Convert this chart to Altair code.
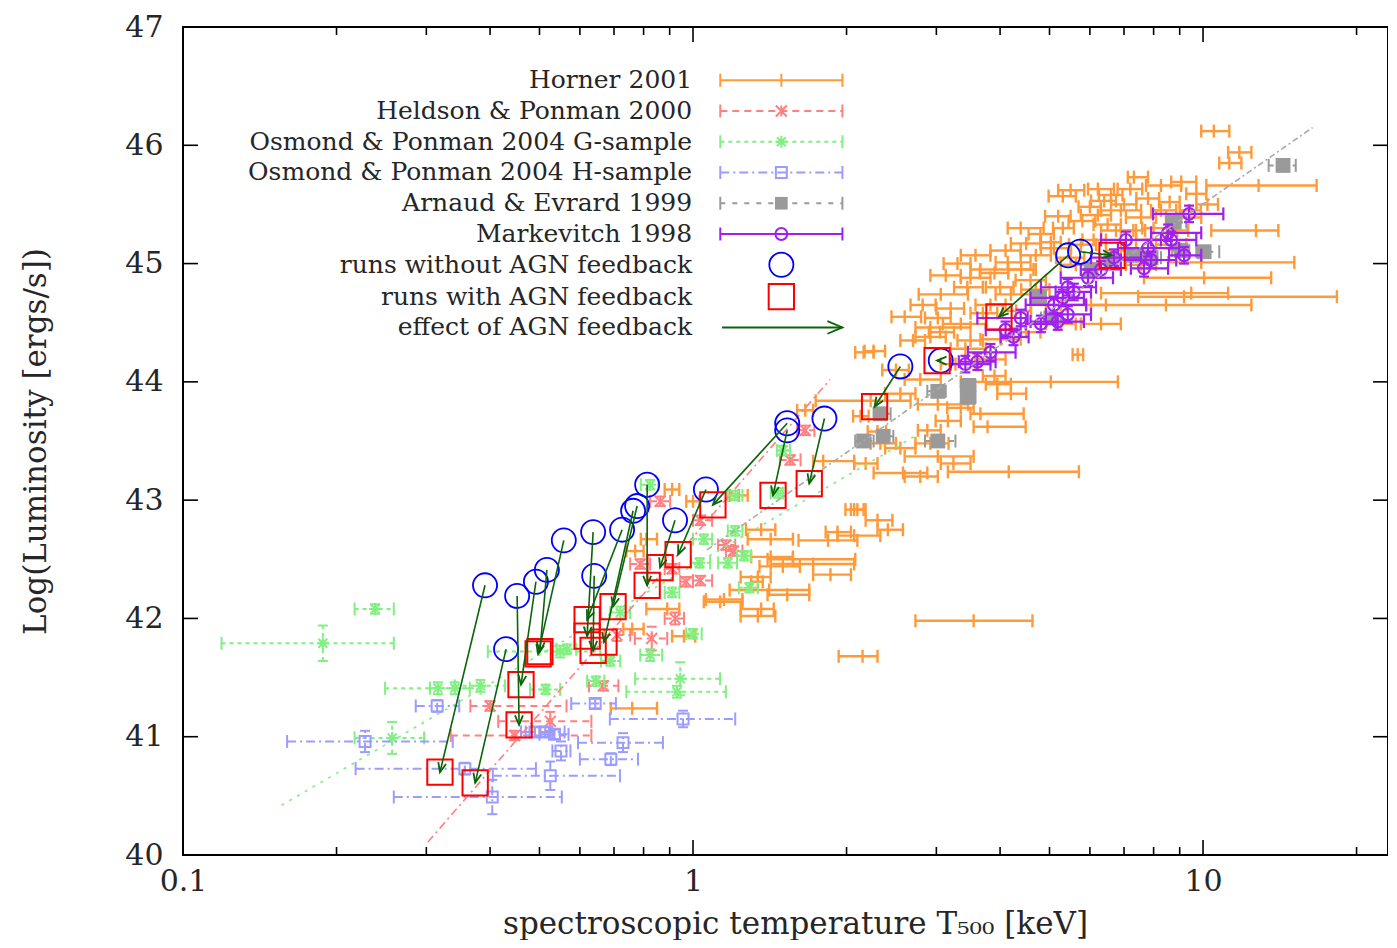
import math
import altair as alt
import pandas as pd

FONT = "DejaVu Serif"
TXT = "#262626"
W, H = 1205, 828
XMIN, XMAX = 0.1, 23.05
YMIN, YMAX = 40, 47

# ---------------- Horner 2001 (T, T_lo, T_hi in keV ; log L) ----------------
horner_T = [
    10.5, 11.78, 11.26, 5.31, 6.22, 6.4, 7.32, 8.27, 9.06, 9.7,
    12.85, 6.9, 7.56, 8.27, 9.06, 4.39, 5.31, 6.22, 6.75, 5.03,
    5.76, 12.7, 9.92, 10.05, 9.48, 9.18, 8.46, 6.31, 5.1, 4.14,
    3.66, 3.5, 3.06, 2.82, 3.02, 2.92, 2.92, 2.26, 5.03, 3.95,
    3.02, 3.66, 3.16, 3.78, 2.88, 3.02, 3.24, 4.16, 2.58, 2.79,
    2.13, 2.3, 2.16, 2.23, 1.8, 2.18, 2.1, 2.3, 2.41, 2.07,
    1.84, 1.42, 1.72, 1.42, 1.86, 1.34, 1.41, 1.15, 1.34, 3.55,
    2.15, 0.91, 1.0, 1.66, 1.23, 0.81, 0.77, 1.36, 1.5, 1.57,
    1.34, 1.13, 1.36, 1.53, 0.89, 0.76, 0.96, 1.92, 2.07, 0.76,
    5.68, 3.35, 3.83, 4.2, 4.59, 4.92, 4.01, 3.42, 3.27, 3.83,
    2.79, 2.55, 4.7, 5.63, 6.9, 7.56, 7.91, 8.66, 4.1, 3.58,
    3.13, 5.9, 5.26, 2.33, 2.55, 2.92,
    5.5, 6.0, 6.6, 7.0, 7.8, 8.6, 5.8, 6.5, 7.3, 8.0,
    5.2, 4.8, 5.5, 6.1, 4.5, 8.9, 9.4, 7.2, 10.2,
    3.3, 3.9, 4.4, 3.45, 4.0, 4.7, 3.2, 3.7, 4.3, 3.05,
    3.5, 4.5, 2.6, 2.7, 3.9, 4.2, 3.35, 2.5]
horner_Tlo = [
    9.92, 11.2, 10.76, 4.98, 5.95, 6.03, 7.12, 7.73, 8.66, 9.27,
    10.15, 6.31, 7.06, 7.91, 8.46, 4.14, 5.08, 5.76, 6.31, 4.81,
    5.46, 10.38, 8.54, 7.66, 6.31, 7.46, 6.03, 5.76, 4.81, 3.92,
    3.5, 3.35, 2.77, 2.67, 2.85, 2.73, 2.73, 2.17, 3.35, 3.75,
    2.76, 3.5, 2.99, 3.55, 2.76, 2.6, 3.06, 3.16, 2.26, 2.6,
    2.06, 2.2, 2.08, 1.74, 1.72, 2.07, 2.04, 2.18, 2.3, 1.92,
    1.61, 1.28, 1.42, 1.3, 1.72, 1.3, 1.18, 1.06, 1.24, 2.73,
    1.93, 0.88, 0.97, 1.6, 1.18, 0.79, 0.74, 1.27, 1.35, 1.4,
    1.24, 1.05, 1.24, 1.4, 0.81, 0.73, 0.91, 1.82, 1.99, 0.69,
    5.55, 3.09, 3.58, 3.92, 4.29, 4.59, 3.66, 3.2, 3.06, 3.58,
    2.6, 2.38, 4.39, 5.26, 6.45, 7.06, 7.39, 8.09, 3.83, 3.35,
    2.92, 5.39, 4.92, 2.23, 2.38, 2.73,
    5.2, 5.7, 6.25, 6.6, 7.4, 8.2, 5.45, 6.1, 6.9, 7.6,
    4.9, 4.55, 5.15, 5.8, 4.2, 8.5, 9.0, 6.8, 9.7,
    3.1, 3.65, 4.15, 3.25, 3.75, 4.4, 3.0, 3.5, 4.05, 2.9,
    3.3, 4.2, 2.45, 2.55, 3.7, 3.95, 3.15, 2.35]
horner_Thi = [
    11.26, 12.44, 11.89, 5.63, 6.69, 6.75, 7.8, 9.06, 9.7, 10.15,
    16.7, 7.56, 8.09, 8.86, 9.92, 4.87, 5.58, 6.6, 7.39, 5.26,
    6.17, 14.05, 15.1, 13.6, 11.2, 18.3, 12.44, 6.9, 5.51, 4.59,
    4.65, 3.83, 3.46, 2.99, 3.2, 3.5, 3.13, 2.38, 6.81, 4.2,
    3.46, 4.45, 3.35, 4.49, 3.06, 3.55, 3.5, 5.71, 2.88, 3.02,
    2.21, 2.39, 2.26, 2.67, 2.07, 2.3, 2.18, 2.46, 2.58, 2.33,
    2.1, 1.57, 2.07, 1.57, 2.04, 1.37, 1.69, 1.25, 1.45, 4.63,
    2.3, 0.94, 1.03, 1.72, 1.28, 0.85, 0.8, 1.45, 1.62, 2.08,
    1.42, 1.25, 1.44, 1.69, 0.94, 0.8, 1.01, 2.04, 2.16, 0.85,
    5.82, 3.75, 4.1, 4.59, 4.92, 5.26, 4.39, 3.75, 3.58, 4.1,
    3.06, 2.73, 5.03, 6.03, 7.39, 8.09, 8.46, 9.27, 4.39, 3.83,
    3.35, 6.45, 5.63, 2.5, 2.73, 3.17,
    5.85, 6.3, 6.95, 7.4, 8.2, 9.0, 6.15, 6.9, 7.7, 8.5,
    5.5, 5.1, 5.85, 6.45, 4.8, 9.35, 9.9, 7.6, 10.7,
    3.5, 4.15, 4.7, 3.7, 4.25, 5.0, 3.4, 3.95, 4.6, 3.25,
    3.7, 4.8, 2.8, 2.85, 4.1, 4.5, 3.55, 2.65]
horner_L = [
    46.12, 45.94, 45.85, 45.57, 45.63, 45.53, 45.73, 45.66, 45.69, 45.59,
    45.66, 45.45, 45.39, 45.45, 45.39, 45.30, 45.30, 45.41, 45.28, 45.18,
    45.16, 45.28, 45.01, 44.88, 44.75, 44.72, 44.65, 44.49, 45.13, 45.01,
    44.95, 44.88, 44.74, 44.65, 44.54, 44.46, 44.38, 44.26, 44.0, 43.98,
    43.81, 43.73, 43.67, 43.62, 43.59, 43.37, 43.31, 43.24, 43.23, 43.20,
    43.71, 43.58, 44.25, 43.84, 43.33, 43.31, 42.92, 42.83, 42.75, 42.70,
    42.66, 42.67, 42.46, 42.52, 42.37, 42.31, 42.24, 42.16, 42.02, 41.98,
    41.68, 43.09, 42.99, 43.76, 43.04, 42.67, 42.57, 42.75, 42.44, 42.50,
    42.35, 42.14, 42.08, 42.20, 42.08, 41.91, 41.85, 42.73, 42.92, 41.24,
    44.23, 44.49, 44.65, 44.74, 44.86, 44.65, 44.36, 44.28, 44.15, 44.19,
    44.02, 43.90, 45.07, 44.99, 45.11, 44.99, 45.20, 45.16, 45.11, 45.07,
    44.90, 44.65, 44.49, 43.48, 43.44, 43.48,
    45.62, 45.48, 45.58, 45.50, 45.55, 45.52, 45.36, 45.33, 45.28, 45.30,
    45.40, 45.25, 45.05, 45.20, 45.17, 45.28, 45.45, 45.63, 45.50,
    45.00, 44.92, 44.95, 44.80, 44.80, 44.78, 44.62, 44.58, 44.60, 44.42,
    44.35, 44.42, 44.55, 44.35, 44.05, 43.90, 43.78, 44.10]
horner_Lerr = 0.055

# ---------------- Heldson & Ponman 2000 ----------------
held_T = [0.667, 0.525, 0.40, 0.447, 0.83, 0.709, 0.922, 0.97, 0.91, 0.788, 1.034, 1.16, 1.2, 1.034, 0.862, 1.55, 1.66]
held_Tlo = [0.625, 0.415, 0.366, 0.335, 0.769, 0.67, 0.88, 0.944, 0.88, 0.753, 1.0, 1.12, 1.16, 1.0, 0.824, 1.48, 1.6]
held_Thi = [0.714, 0.632, 0.565, 0.632, 0.89, 0.753, 0.96, 1.0, 0.94, 0.824, 1.09, 1.21, 1.25, 1.09, 0.902, 1.625, 1.73]
held_L = [41.43, 41.13, 41.26, 41.01, 41.83, 41.86, 42.0, 42.31, 42.42, 42.46, 42.32, 42.62, 42.57, 42.83, 42.99, 43.34, 43.59]
held_Lerr = [0.04, 0.08, 0.04, 0.04, 0.1, 0.05, 0.05, 0.04, 0.04, 0.04, 0.04, 0.04, 0.04, 0.04, 0.04, 0.04, 0.04]

# ---------------- Osmond & Ponman 2004 G-sample ----------------
osg_T = [0.188, 0.238, 0.257, 0.316, 0.341, 0.383, 0.514, 0.549, 0.566, 0.72,
         0.824, 0.944, 0.93, 1.0, 0.91, 1.29, 1.03, 1.17, 1.05, 1.21,
         1.21, 0.824, 1.47, 1.5, 0.688, 0.645, 1.26]
osg_Tlo = [0.119, 0.217, 0.217, 0.249, 0.305, 0.341, 0.479, 0.396, 0.54, 0.688,
           0.788, 0.77, 0.74, 0.97, 0.88, 1.23, 0.99, 1.12, 1.0, 1.17,
           1.17, 0.79, 1.42, 1.46, 0.66, 0.62, 1.22]
osg_Thi = [0.259, 0.259, 0.297, 0.365, 0.383, 0.428, 0.549, 0.658, 0.59, 0.753,
           0.87, 1.13, 1.16, 1.04, 0.94, 1.34, 1.08, 1.22, 1.09, 1.25,
           1.25, 0.855, 1.5, 1.55, 0.72, 0.67, 1.3]
osg_L = [41.79, 42.08, 40.99, 41.41, 41.41, 41.43, 41.40, 41.72, 41.74, 42.05,
         41.69, 41.49, 41.38, 41.87, 42.22, 42.26, 42.47, 42.47, 42.67, 42.74,
         43.04, 43.13, 43.06, 43.42, 41.64, 41.47, 42.53]
osg_Lerr = [0.15, 0.04, 0.135, 0.05, 0.05, 0.05, 0.04, 0.05, 0.04, 0.05,
            0.05, 0.14, 0.05, 0.04, 0.04, 0.04, 0.04, 0.04, 0.04, 0.04,
            0.04, 0.04, 0.04, 0.04, 0.04, 0.04, 0.04]

# ---------------- Osmond & Ponman 2004 H-sample ----------------
osh_T = [0.2275, 0.315, 0.404, 0.357, 0.525, 0.513, 0.49, 0.535, 0.551, 0.643, 0.729, 0.690, 0.956]
osh_Tlo = [0.160, 0.286, 0.259, 0.218, 0.405, 0.47, 0.46, 0.5, 0.53, 0.577, 0.595, 0.6, 0.687]
osh_Thi = [0.338, 0.348, 0.553, 0.492, 0.719, 0.56, 0.53, 0.57, 0.575, 0.706, 0.873, 0.78, 1.21]
osh_L = [40.96, 41.26, 40.49, 40.73, 40.67, 41.04, 41.04, 41.02, 40.88, 41.28, 40.95, 40.81, 41.15]
osh_Lerr = [0.09, 0.05, 0.145, 0.05, 0.12, 0.04, 0.04, 0.04, 0.08, 0.04, 0.08, 0.05, 0.07]

# ---------------- Arnaud & Evrard 1999 ----------------
arn_T = [14.35, 10.05, 7.91, 7.32, 8.78, 4.76, 5.03, 3.47, 3.47, 3.02, 2.33, 2.16, 2.36, 3.02, 6.03, 6.6, 9.06]
arn_Tlo = [13.45, 9.7, 7.56, 7.06, 8.46, 4.59, 4.81, 3.35, 3.35, 2.88, 2.26, 2.08, 2.3, 2.85, 5.76, 6.3, 8.7]
arn_Thi = [15.2, 10.76, 8.27, 7.63, 9.27, 4.92, 5.26, 3.58, 3.58, 3.13, 2.44, 2.26, 2.47, 3.27, 6.31, 6.9, 9.4]
arn_L = [45.83, 45.10, 45.05, 45.07, 45.35, 44.72, 44.54, 43.97, 43.87, 43.92, 43.73, 43.50, 43.54, 43.50, 44.95, 45.03, 45.11]
arn_Lerr = 0.05

# ---------------- Markevitch 1998 ----------------
mar_T = [9.39, 8.54, 9.18, 7.8, 7.66, 6.69, 7.06, 5.95, 5.43, 5.31, 5.58, 5.1, 5.43, 5.19, 4.81, 4.39, 4.25, 3.83, 3.61, 3.42, 4.1, 6.31, 7.91, 8.66]
mar_Tlo = [7.98, 7.91, 8.58, 6.81, 7.22, 6.03, 6.31, 5.26, 4.81, 4.59, 5.14, 4.49, 4.92, 4.59, 4.49, 3.61, 4.01, 3.46, 3.32, 3.2, 3.75, 5.76, 6.9, 7.91]
mar_Thi = [10.96, 9.92, 9.92, 8.98, 8.54, 7.56, 8.27, 6.66, 6.17, 5.84, 6.03, 5.9, 6.03, 5.84, 5.14, 4.53, 4.55, 4.29, 3.92, 3.83, 4.39, 6.9, 8.86, 9.7]
mar_L = [45.42, 45.26, 45.07, 45.13, 44.96, 45.05, 45.20, 44.88, 44.80, 44.71, 44.76, 44.65, 44.57, 44.51, 44.49, 44.54, 44.38, 44.25, 44.17, 44.15, 44.44, 44.95, 45.03, 45.20]
mar_Lerr = 0.07

# ---------------- simulations: without AGN -> with AGN (paired) ----------------
noagn_T = [0.391, 0.452, 0.492, 0.517, 0.558, 0.637, 0.640, 0.726, 0.763, 0.777, 0.813, 0.922, 1.06, 1.53, 1.53, 1.81, 0.430, 2.55, 3.06, 5.44, 5.74]
noagn_L = [42.28, 42.19, 42.31, 42.41, 42.66, 42.73, 42.36, 42.75, 42.91, 42.95, 43.13, 42.83, 43.09, 43.65, 43.59, 43.69, 41.74, 44.13, 44.18, 45.07, 45.10]
agn_T = [0.319, 0.456, 0.460, 0.501, 0.497, 0.620, 0.637, 0.620, 0.669, 0.697, 0.813, 0.862, 0.935, 1.094, 1.435, 1.69, 0.374, 2.27, 3.01, 3.98, 6.63]
agn_L = [40.70, 41.10, 41.44, 41.72, 41.70, 41.85, 41.73, 41.99, 41.80, 42.10, 42.28, 42.43, 42.54, 42.96, 43.04, 43.14, 40.61, 43.79, 44.18, 44.55, 45.07]

# ---------------- fit lines ----------------
fitG_T, fitG_L = [0.156, 2.72], [40.42, 43.54]
fitH_T, fitH_L = [0.302, 1.857], [40.11, 44.02]
fitA_T, fitA_L = [1.065, 16.4], [42.58, 46.15]

# ---------------- axis ticks ----------------
xt_major = [0.1, 1, 10]
xt_minor = [0.2, 0.3, 0.4, 0.5, 0.6, 0.7, 0.8, 0.9, 2, 3, 4, 5, 6, 7, 8, 9, 20]
yt_major = [40, 41, 42, 43, 44, 45, 46, 47]

# ---------------- legend ----------------
leg_labels = ["Horner 2001", "Heldson & Ponman 2000", "Osmond & Ponman 2004 G-sample",
              "Osmond & Ponman 2004 H-sample", "Arnaud & Evrard 1999", "Markevitch 1998",
              "runs without AGN feedback", "runs with AGN feedback", "effect of AGN feedback"]
leg_rows = [46.55, 46.29, 46.03, 45.77, 45.51, 45.25, 44.99, 44.72, 44.46]
LEG_TXT_T, LEG_X0, LEG_X1, LEG_XC = 0.996, 1.131, 1.963, 1.49

# ---------------- styles ----------------
C_HOR, C_HEL, C_OSG, C_OSH = "#ff9a3a", "#ff8080", "#80f080", "#9c9cff"
C_ARN, C_MAR = "#9a9a9a", "#a020f0"
C_RUN0, C_RUN1, C_ARR = "#0000ff", "#ff0000", "#0a640a"
VCAP = "M0,-1L0,1"
HCAP = "M-1,0L1,0"
XMARK = "M-1,-1L1,1M-1,1L1,-1M0,-1L0,1"
STAR = "M-1,0L1,0M0,-1L0,1M-0.75,-0.75L0.75,0.75M-0.75,0.75L0.75,-0.75"
HEAD = "M-0.42,1L0,0L0.42,1"

XS = alt.Scale(type="log", domain=[XMIN, XMAX], nice=False)
YS = alt.Scale(domain=[YMIN, YMAX], nice=False, zero=False)
XAX = alt.Axis(values=xt_major, format="~g", ticks=False, domain=False, grid=False,
               labelFlush=False, labelFont=FONT, labelFontSize=30, labelColor=TXT, labelPadding=11,
               title="spectroscopic temperature T₅₀₀ [keV]", titleFont=FONT, titleFontSize=31,
               titleFontWeight="normal", titleColor=TXT, titleX=612, titleY=69,
               titleAlign="center", titleBaseline="middle")
YAX = alt.Axis(values=yt_major, format="d", ticks=False, domain=False, grid=False,
               labelFlush=False, labelFont=FONT, labelFontSize=30, labelColor=TXT, labelPadding=20,
               title="Log(Luminosity [ergs/s])", titleFont=FONT, titleFontSize=31,
               titleFontWeight="normal", titleColor=TXT, titleX=-147, titleY=H / 2,
               titleAngle=270, titleAlign="center", titleBaseline="middle")


def X(f):
    return alt.X(f, type="quantitative", scale=XS, axis=XAX)


def Y(f):
    return alt.Y(f, type="quantitative", scale=YS, axis=YAX)


def pts(df, xf, yf, **kw):
    kw.setdefault("opacity", 1)
    return alt.Chart(df).mark_point(**kw).encode(x=X(xf), y=Y(yf))


def series(T, Tlo, Thi, L, Lerr, color, dash, marker=None, msize=100, filled=False,
           ycaps=True, width=2):
    n = len(T)
    if not isinstance(Lerr, list):
        Lerr = [Lerr] * n
    df = pd.DataFrame({"T": T, "Tlo": Tlo, "Thi": Thi, "L": L, "e": Lerr})
    df["Llo"] = df["L"] - df["e"]
    df["Lhi"] = df["L"] + df["e"]
    rk = dict(color=color, strokeWidth=width)
    if dash:
        rk["strokeDash"] = dash
    out = [
        alt.Chart(df).mark_rule(**rk).encode(x=X("Tlo"), x2="Thi", y=Y("L")),
        alt.Chart(df).mark_rule(**rk).encode(x=X("T"), y=Y("Llo"), y2="Lhi"),
    ]
    capx = pd.DataFrame({"T": list(df["Tlo"]) + list(df["Thi"]), "L": list(df["L"]) * 2})
    out.append(pts(capx, "T", "L", shape=VCAP, size=169, filled=False, color=color, strokeWidth=width))
    if ycaps:
        capy = pd.DataFrame({"T": list(df["T"]) * 2, "L": list(df["Llo"]) + list(df["Lhi"])})
        out.append(pts(capy, "T", "L", shape=HCAP, size=100, filled=False, color=color, strokeWidth=width))
    if marker:
        out.append(pts(df, "T", "L", shape=marker, size=msize, filled=filled, color=color,
                       strokeWidth=width))
    return out


def fit(T, L, color, dash, width=1.6):
    df = pd.DataFrame({"T": T, "L": L})
    return alt.Chart(df).mark_line(color=color, strokeDash=dash, strokeWidth=width).encode(
        x=X("T"), y=Y("L"))


layers = []
layers += series(horner_T, horner_Tlo, horner_Thi, horner_L, horner_Lerr, C_HOR, None, ycaps=False, width=2.4)
layers += series(held_T, held_Tlo, held_Thi, held_L, held_Lerr, C_HEL, [7, 5], XMARK, 120)
layers += series(osg_T, osg_Tlo, osg_Thi, osg_L, osg_Lerr, C_OSG, [4, 4], STAR, 140)
layers += series(osh_T, osh_Tlo, osh_Thi, osh_L, osh_Lerr, C_OSH, [9, 4, 2, 4], "square", 120)
layers += series(arn_T, arn_Tlo, arn_Thi, arn_L, arn_Lerr, C_ARN, [5, 7], "square", 220, filled=True)
layers += series(mar_T, mar_Tlo, mar_Thi, mar_L, mar_Lerr, C_MAR, None, "circle", 140, width=2.2)

layers.append(fit(fitG_T, fitG_L, C_OSG, [3, 6]))
layers.append(fit(fitH_T, fitH_L, C_HEL, [8, 4, 2, 4]))
layers.append(fit(fitA_T, fitA_L, "#aaaaaa", [6, 3, 2, 3]))

# simulation runs and arrows
PXD = W / math.log10(XMAX / XMIN)
PXL = H / (YMAX - YMIN)
sim = pd.DataFrame({"Tc": noagn_T, "Lc": noagn_L, "Ts": agn_T, "Ls": agn_L})
sim["ang"] = [
    math.degrees(math.atan2((math.log10(b) - math.log10(a)) * PXD, (d - c) * PXL)) % 360
    for a, b, c, d in zip(sim.Tc, sim.Ts, sim.Lc, sim.Ls)
]
layers.append(pts(sim, "Tc", "Lc", shape="circle", size=580, filled=False, color=C_RUN0, strokeWidth=1.8))
layers.append(pts(sim, "Ts", "Ls", shape="square", size=640, filled=False, color=C_RUN1, strokeWidth=2))
layers.append(alt.Chart(sim).mark_rule(color=C_ARR, strokeWidth=1.6).encode(
    x=X("Tc"), x2="Ts", y=Y("Lc"), y2="Ls"))
layers.append(alt.Chart(sim).mark_point(shape=HEAD, size=360, filled=False, color=C_ARR,
                                         strokeWidth=1.8, opacity=1).encode(
    x=X("Ts"), y=Y("Ls"), angle=alt.Angle("ang:Q", scale=None)))

# legend
legtxt = pd.DataFrame({"T": [LEG_TXT_T] * len(leg_labels), "L": leg_rows, "lab": leg_labels})
layers.append(alt.Chart(legtxt).mark_text(align="right", baseline="middle", font=FONT,
                                          fontSize=25, color=TXT).encode(
    x=X("T"), y=Y("L"), text="lab:N"))
leg_styles = [
    (C_HOR, None, VCAP, 169, False),
    (C_HEL, [7, 5], XMARK, 120, False),
    (C_OSG, [4, 4], STAR, 140, False),
    (C_OSH, [9, 4, 2, 4], "square", 120, False),
    (C_ARN, [5, 7], "square", 160, True),
    (C_MAR, None, "circle", 140, False),
]
for (col, dash, mk, ms, fl), row in zip(leg_styles, leg_rows):
    ldf = pd.DataFrame({"a": [LEG_X0], "b": [LEG_X1], "c": [LEG_XC], "L": [row]})
    rk = dict(color=col, strokeWidth=2)
    if dash:
        rk["strokeDash"] = dash
    layers.append(alt.Chart(ldf).mark_rule(**rk).encode(x=X("a"), x2="b", y=Y("L")))
    cdf = pd.DataFrame({"T": [LEG_X0, LEG_X1], "L": [row, row]})
    layers.append(pts(cdf, "T", "L", shape=VCAP, size=169, filled=False, color=col, strokeWidth=2))
    layers.append(pts(ldf, "c", "L", shape=mk, size=ms, filled=fl, color=col, strokeWidth=2))
ldf = pd.DataFrame({"c": [LEG_XC], "L": [leg_rows[6]]})
layers.append(pts(ldf, "c", "L", shape="circle", size=580, filled=False, color=C_RUN0, strokeWidth=1.8))
ldf = pd.DataFrame({"c": [LEG_XC], "L": [leg_rows[7]]})
layers.append(pts(ldf, "c", "L", shape="square", size=640, filled=False, color=C_RUN1, strokeWidth=2))
adf = pd.DataFrame({"a": [1.14], "b": [LEG_X1], "L": [leg_rows[8]], "ang": [90]})
layers.append(alt.Chart(adf).mark_rule(color=C_ARR, strokeWidth=2).encode(x=X("a"), x2="b", y=Y("L")))
layers.append(alt.Chart(adf).mark_point(shape=HEAD, size=900, filled=False, color=C_ARR,
                                        strokeWidth=1.8, opacity=1).encode(
    x=X("b"), y=Y("L"), angle=alt.Angle("ang:Q", scale=None)))


# inward ticks on all four sides
def xticks(vals, length):
    df = pd.DataFrame({"v": vals})
    base = alt.Chart(df).mark_rule(color="black", strokeWidth=1.6)
    return [base.encode(x=X("v"), y=alt.value(H), y2=alt.value(H - length)),
            base.encode(x=X("v"), y=alt.value(0), y2=alt.value(length))]


def yticks(vals, length):
    df = pd.DataFrame({"v": vals})
    base = alt.Chart(df).mark_rule(color="black", strokeWidth=1.6)
    return [base.encode(y=Y("v"), x=alt.value(0), x2=alt.value(length)),
            base.encode(y=Y("v"), x=alt.value(W), x2=alt.value(W - length))]


layers += xticks(xt_major, 15)
layers += xticks(xt_minor, 8)
layers += yticks(yt_major, 15)

chart = alt.layer(*layers).properties(
    width=W, height=H,
    padding={"left": 175, "top": 19, "right": 0, "bottom": 85},
    autosize=alt.AutoSizeParams(type="none"),
).configure_view(stroke="black", strokeWidth=2)

chart.save("out.html", embed_options={"renderer": "svg", "actions": False})
